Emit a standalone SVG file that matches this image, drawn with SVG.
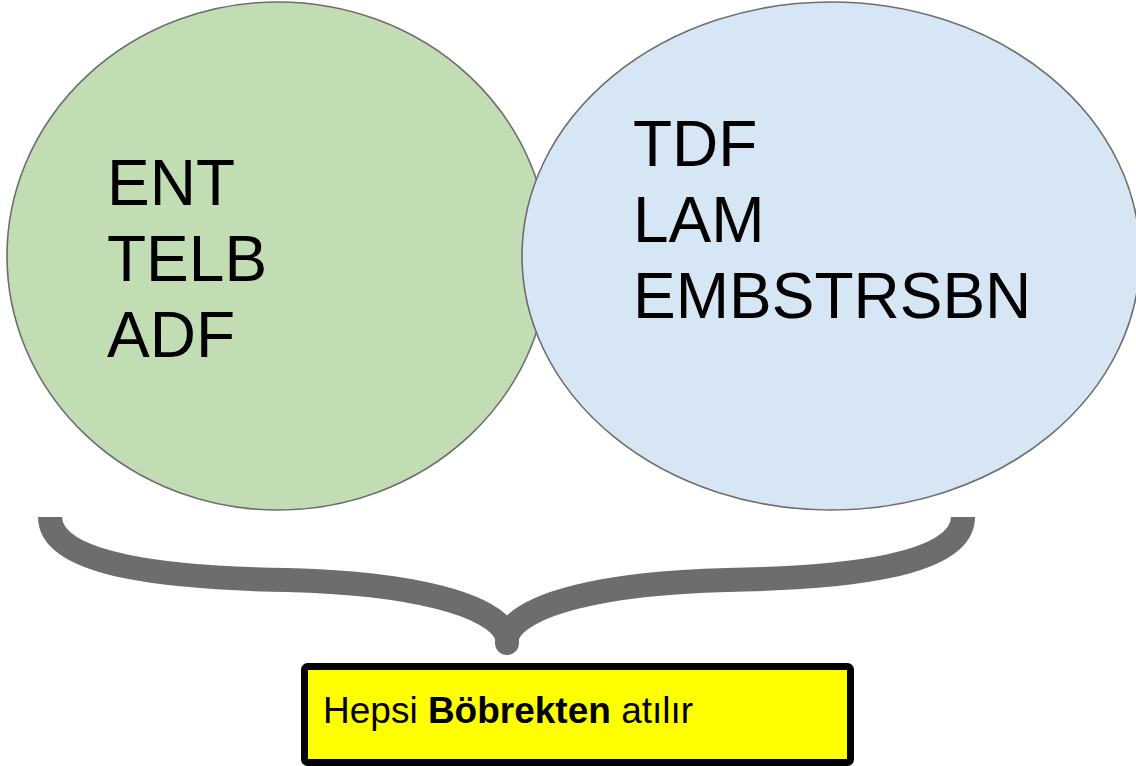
<svg xmlns="http://www.w3.org/2000/svg" width="1136" height="766" viewBox="0 0 1136 766">
<style>
.set{stroke:#6d6d6d;stroke-width:1.6}
.big{font-family:"Liberation Sans",Arial,sans-serif;font-size:64px;fill:#000}
.lbl{font-family:"Liberation Sans",Arial,sans-serif;font-size:37px;fill:#000}
.brace{fill:none;stroke:#6d6d6d;stroke-width:24;stroke-linejoin:round}
</style>
<rect width="1136" height="766" fill="#fff"/>
<g id="set-left">
<ellipse class="set" cx="278" cy="256" rx="271" ry="254" fill="#c2dcb4"/>
</g>
<g id="set-right">
<ellipse class="set" cx="831" cy="256" rx="309" ry="254" fill="#d7e6f5"/>
</g>
<g id="text-left">
<text class="big" x="107" y="205">ENT</text>
<text class="big" x="107" y="281">TELB</text>
<text class="big" x="107" y="357">ADF</text>
</g>
<g id="text-right">
<text class="big" x="633" y="166">TDF</text>
<text class="big" x="633" y="242">LAM</text>
<text class="big" x="633" y="318">EMBSTRSBN</text>
</g>
<g id="connectors">
<path class="brace" d="M50,517 C50,566 170,578 287,580 C410,583 495,604 507,636 C519,604 604,583 727,580 C844,578 963,566 963,517"/>
<path class="brace" d="M507,630 L507,643" stroke-linecap="round"/>
</g>
<g id="result">
<rect x="304.5" y="666.5" width="546" height="96" rx="3" fill="#ffff00" stroke="#000" stroke-width="7"/>
<text class="lbl" x="323" y="723">Hepsi <tspan font-weight="bold">Böbrekten</tspan> atılır</text>
</g>
</svg>
